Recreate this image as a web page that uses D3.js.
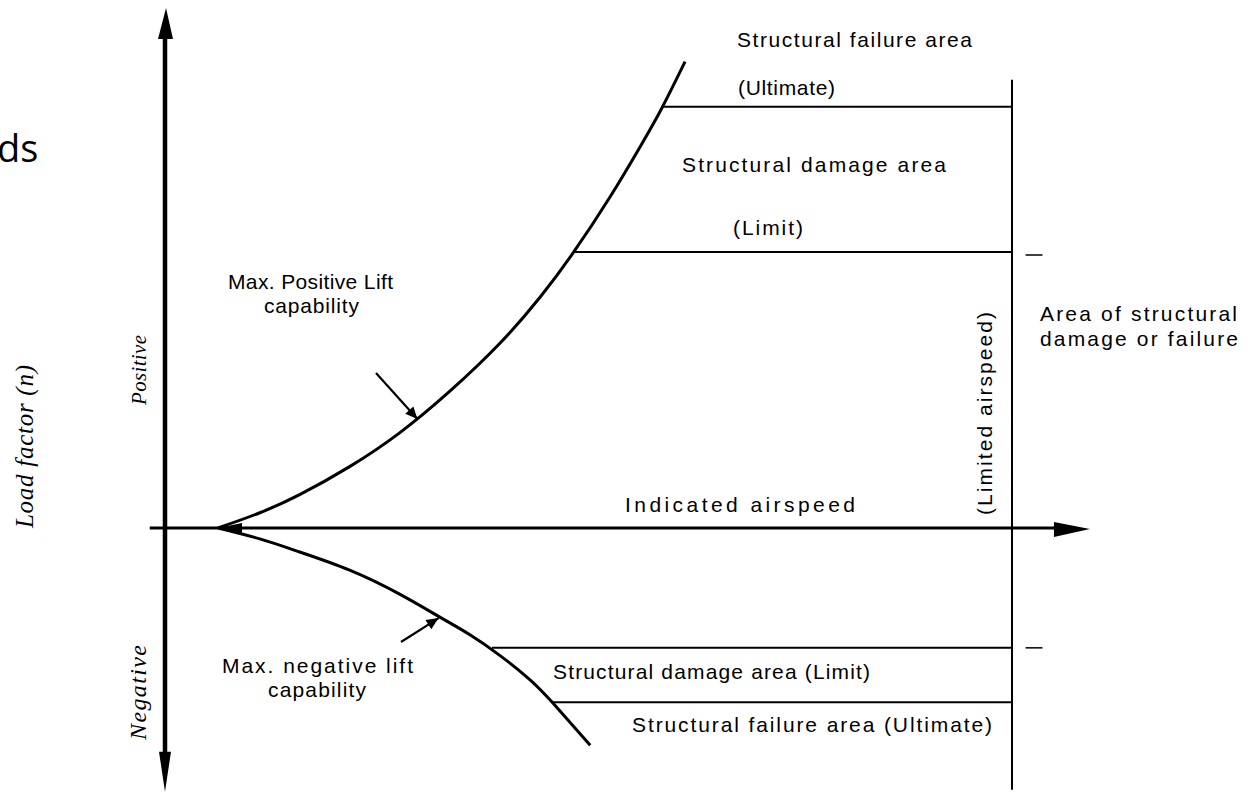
<!DOCTYPE html>
<html>
<head>
<meta charset="utf-8">
<script src="https://cdn.jsdelivr.net/npm/d3@7"></script>
<style>
  html, body { margin: 0; padding: 0; background: #fff; }
  svg { display: block; }
  .lbl { font-family: "Liberation Sans", Arial, sans-serif; font-size: 21px; fill: #000; }
  .ital { font-family: "Liberation Serif", "DejaVu Serif", serif; font-style: italic; font-size: 21px; fill: #000; }
</style>
</head>
<body>
<div id="chart"></div>
<script>
// V-n diagram: load factor against indicated airspeed (schematic units)
const posLiftSpeed = [6.26, 11.2, 15.9, 21.8, 27.7, 33.6, 39.6, 44.3, 48.2, 52.5, 56.1, 58.7, 61.4];
const posLiftLoad  = [0, 0.21, 0.46, 0.845, 1.31, 1.88, 2.55, 3.18, 3.79, 4.55, 5.25, 5.79, 6.42];

const negLiftSpeed = [6.26, 11.2, 15.9, 21.8, 27.7, 32.5, 36.0, 39.6, 43.1, 45.8, 50.2];
const negLiftLoad  = [0, -0.15, -0.33, -0.58, -0.91, -1.23, -1.47, -1.76, -2.09, -2.41, -2.99];

// structural boundaries (load factor, speed where the lift curve meets them)
const boundaryNames = ["Ultimate", "Limit", "Limit", "Ultimate"];
const boundaryLoad  = [5.8, 3.8, -1.65, -2.4];
const boundaryStart = [58.6, 48.2, 38.6, 45.8];

const limitAirspeed = 100;
const loadRange = [-3.63, 7.16];     // extent of the load factor axis
const speedRange = [-1.8, 109.2];    // extent of the airspeed axis
const vneTopLoad = 6.17;

const width = 1254, height = 795;

const x = d3.scaleLinear().domain([0, limitAirspeed]).range([165, 1012]);
const y = d3.scaleLinear().domain([0, 3.8]).range([528, 252]);

const svg = d3.select("#chart").append("svg")
    .attr("width", width)
    .attr("height", height);

svg.append("rect").attr("width", width).attr("height", height).attr("fill", "#fff");

// leftover of the slide title, cut at the left edge
svg.append("text")
    .attr("x", -3).attr("y", 162)
    .style("font-family", "'Open Sans', sans-serif")
    .style("font-size", "38px")
    .text("ds");

// ---- axes ----
const ax = svg.append("g").attr("class", "axes");

ax.append("line")
    .attr("x1", x(0)).attr("x2", x(0))
    .attr("y1", y(loadRange[1]) + 20).attr("y2", y(loadRange[0]) - 20)
    .attr("stroke", "#000").attr("stroke-width", 4.5);

// up arrow
ax.append("path")
    .attr("d", `M${x(0) + 1},${y(loadRange[1])} L${x(0) - 7},${y(loadRange[1]) + 31} L${x(0) + 8},${y(loadRange[1]) + 31} Z`)
    .attr("fill", "#000");
// down arrow
ax.append("path")
    .attr("d", `M${x(0)},${y(loadRange[0])} L${x(0) - 6},${y(loadRange[0]) - 40} L${x(0) + 6},${y(loadRange[0]) - 40} Z`)
    .attr("fill", "#000");

ax.append("line")
    .attr("x1", x(speedRange[0])).attr("x2", x(speedRange[1]) - 20)
    .attr("y1", y(0)).attr("y2", y(0))
    .attr("stroke", "#000").attr("stroke-width", 3);

// right arrow
ax.append("path")
    .attr("d", `M${x(speedRange[1])},${y(0) + 1} L${x(speedRange[1]) - 36},${y(0) - 6} L${x(speedRange[1]) - 36},${y(0) + 9} Z`)
    .attr("fill", "#000");

// limited airspeed line
ax.append("line")
    .attr("x1", x(limitAirspeed)).attr("x2", x(limitAirspeed))
    .attr("y1", y(vneTopLoad)).attr("y2", y(loadRange[0]) - 2)
    .attr("stroke", "#000").attr("stroke-width", 2);

// ---- lift capability curves ----
const line = d3.line()
    .x(d => x(d[0]))
    .y(d => y(d[1]))
    .curve(d3.curveNatural);

const posPts = d3.zip(posLiftSpeed, posLiftLoad);
const negPts = d3.zip(negLiftSpeed, negLiftLoad);

svg.append("path")
    .datum(posPts)
    .attr("d", line)
    .attr("fill", "none")
    .attr("stroke", "#000")
    .attr("stroke-width", 3);

svg.append("path")
    .datum(negPts)
    .attr("d", line)
    .attr("fill", "none")
    .attr("stroke", "#000")
    .attr("stroke-width", 3);

// small arrow where the curves leave the axis
svg.append("path")
    .attr("d", `M${x(posLiftSpeed[0])},${y(0)} L${x(posLiftSpeed[0]) + 24},${y(0) - 5} L${x(posLiftSpeed[0]) + 24},${y(0) + 5} Z`)
    .attr("fill", "#000");

// ---- structural boundaries ----
svg.selectAll("line.bound")
    .data(d3.range(boundaryLoad.length))
    .enter().append("line")
    .attr("class", "bound")
    .attr("x1", i => x(boundaryStart[i]))
    .attr("x2", x(limitAirspeed))
    .attr("y1", i => y(boundaryLoad[i]))
    .attr("y2", i => y(boundaryLoad[i]))
    .attr("stroke", "#000")
    .attr("stroke-width", 2);

// short dashes right of the limit airspeed at the limit loads
svg.selectAll("line.dash")
    .data(d3.range(boundaryLoad.length).filter(i => boundaryNames[i] === "Limit"))
    .enter().append("line")
    .attr("class", "dash")
    .attr("x1", x(101.6)).attr("x2", x(103.6))
    .attr("y1", i => y(boundaryLoad[i]) + (boundaryLoad[i] > 0 ? 3 : 0))
    .attr("y2", i => y(boundaryLoad[i]) + (boundaryLoad[i] > 0 ? 3 : 0))
    .attr("stroke", "#000")
    .attr("stroke-width", 1.5);

// ---- pointer arrows ----
svg.append("defs").append("marker")
    .attr("id", "tip")
    .attr("viewBox", "0 0 10 10")
    .attr("refX", 10).attr("refY", 5)
    .attr("markerWidth", 7).attr("markerHeight", 5.5)
    .attr("markerUnits", "strokeWidth")
    .attr("orient", "auto")
    .append("path").attr("d", "M0,0.5 L10,5 L0,9.5 Z").attr("fill", "#000");

const pointers = [
    {from: [376, 373], to: [x(29.8), y(1.5)]},
    {from: [401, 642], to: [x(32.3), y(-1.24)]}
];
svg.selectAll("line.ptr")
    .data(pointers)
    .enter().append("line")
    .attr("class", "ptr")
    .attr("x1", d => d.from[0]).attr("y1", d => d.from[1])
    .attr("x2", d => d.to[0]).attr("y2", d => d.to[1])
    .attr("stroke", "#000")
    .attr("stroke-width", 2.2)
    .attr("marker-end", "url(#tip)");

// ---- labels ----
const labels = [
    {t: "Structural failure area", x: 737, y: 47, w: 235},
    {t: "(Ultimate)", x: 738, y: 95, w: 97},
    {t: "Structural damage area", x: 682, y: 172, w: 264},
    {t: "(Limit)", x: 733, y: 235, w: 70},
    {t: "Max. Positive Lift", x: 228, y: 289, w: 165},
    {t: "capability", x: 264, y: 313, w: 95},
    {t: "Area of structural", x: 1040, y: 321, w: 197},
    {t: "damage or failure", x: 1040, y: 346, w: 198},
    {t: "Indicated airspeed", x: 625, y: 512, w: 230},
    {t: "Max. negative lift", x: 222, y: 673, w: 191},
    {t: "capability", x: 268, y: 697, w: 98},
    {t: "Structural damage area (Limit)", x: 553, y: 679, w: 317},
    {t: "Structural failure area (Ultimate)", x: 632, y: 732, w: 360}
];
svg.selectAll("text.lbl")
    .data(labels)
    .enter().append("text")
    .attr("class", "lbl")
    .attr("x", d => d.x)
    .attr("y", d => d.y)
    .attr("textLength", d => d.w)
    .attr("lengthAdjust", "spacing")
    .text(d => d.t);

svg.append("text")
    .attr("class", "lbl")
    .attr("transform", "translate(992,515) rotate(-90)")
    .attr("textLength", 203)
    .attr("lengthAdjust", "spacing")
    .text("(Limited airspeed)");

// italic axis words
svg.append("text")
    .attr("class", "ital")
    .attr("transform", "translate(146,405) rotate(-90)")
    .attr("textLength", 70)
    .text("Positive");
svg.append("text")
    .attr("class", "ital")
    .attr("transform", "translate(146,740) rotate(-90)")
    .style("font-size", "24px")
    .attr("textLength", 95)
    .text("Negative");
svg.append("text")
    .attr("class", "ital")
    .attr("transform", "translate(33,528) rotate(-90)")
    .style("font-size", "25px")
    .attr("textLength", 163)
    .text("Load factor (n)");
</script>
</body>
</html>
